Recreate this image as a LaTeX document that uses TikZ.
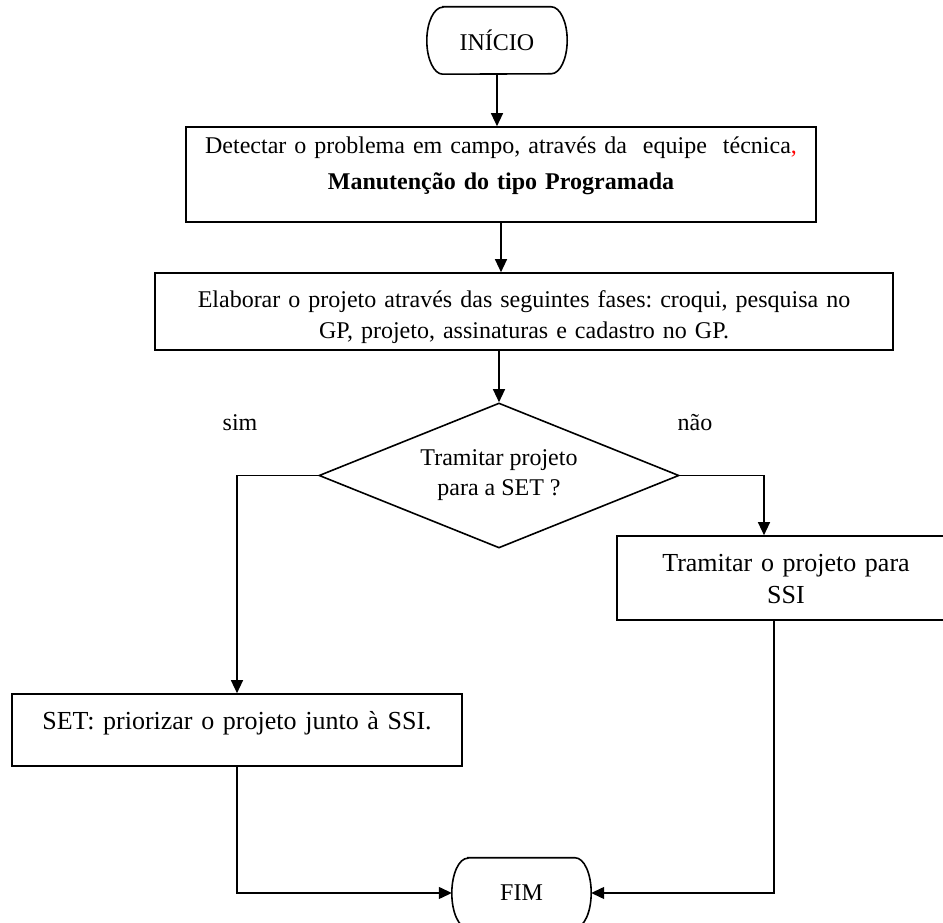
\documentclass[tikz,border=0pt]{standalone}
\usepackage{fontspec}
\setmainfont{Liberation Serif}
\usepackage{xcolor}
\usepackage{tikz}
\usetikzlibrary{shapes.geometric, arrows.meta}
\tikzstyle{terminal} = [rectangle, minimum width=140pt, minimum height=67pt, text centered, font=\fontsize{24}{28}\selectfont]
\tikzstyle{outline}  = [draw=black, line width=1.6pt]
\tikzstyle{process}  = [rectangle, inner ysep=0pt, align=center, draw=black, line width=1.6pt]
\tikzstyle{decision} = [diamond, aspect=2.5, minimum width=360pt, minimum height=145pt, inner sep=0pt, align=center, draw=black, line width=1.6pt, font=\fontsize{24}{30}\selectfont]
\tikzstyle{answer}   = [font=\fontsize{24}{28}\selectfont]
\tikzstyle{arrow}    = [line width=1.3pt, -{Triangle[length=13pt, width=12pt]}]

\begin{document}
\frenchspacing
\begin{tikzpicture}[x=1pt, y=1pt, node distance=134pt]
    \useasboundingbox (0,0) rectangle (943,923);

    \node (start)  [terminal] at (497,882.5) {INÍCIO};
    \node (detect) [process, below of=start, xshift=4pt, text width=620pt, inner xsep=5pt, text height=27pt, text depth=68pt, font=\fontsize{24}{36}\selectfont]
        {Detectar o problema em campo, através da\ \ equipe\ \ técnica\textcolor{red}{,}\\ \textbf{Manutenção do tipo Programada}};
    \node (elab)   [process, below of=detect, xshift=23pt, yshift=-3pt, text width=720pt, inner xsep=9pt, text height=35pt, text depth=42pt, font=\fontsize{24}{31}\selectfont]
        {Elaborar o projeto através das seguintes fases: croqui, pesquisa no\\ GP, projeto, assinaturas e cadastro no GP.};
    \node (dec)    [decision, below of=elab, xshift=-25pt, yshift=-30pt] {Tramitar projeto\\ para a SET ?};
    \node (ssi)    [process, right of=dec, xshift=153pt, yshift=-102.5pt, text width=320pt, inner xsep=9pt, text height=36pt, text depth=48pt, font=\fontsize{26}{32}\selectfont]
        {Tramitar o projeto para\\ SSI};
    \node (set)    [process, left of=dec, xshift=-128pt, yshift=-254.5pt, text width=430pt, inner xsep=10pt, text height=36pt, text depth=36pt, font=\fontsize{26}{32}\selectfont]
        {SET: priorizar o projeto junto à SSI.};
    \node (fim)    [terminal, below of=dec, xshift=22.5pt, yshift=-283.5pt, minimum width=139pt, minimum height=70pt] {FIM};

    \node (sim)    [answer, left of=dec, xshift=-125pt, yshift=52.5pt] {sim};
    \node (nao)    [answer, right of=dec, xshift=62pt, yshift=52.5pt] {não};

    % start / end outlines
    \foreach \n/\r in {start/33.5, fim/35}
        \draw [outline] ([xshift=16pt]\n.north west) -- ([xshift=-16pt]\n.north east)
            arc [start angle=90, end angle=-90, x radius=16pt, y radius=\r pt]
            -- ([xshift=16pt]\n.south west)
            arc [start angle=270, end angle=90, x radius=16pt, y radius=\r pt] -- cycle;

    % arrows
    \draw [arrow] (start.south)  -- (start.south |- detect.north);
    \draw [arrow] (detect.south) -- (detect.south |- elab.north);
    \draw [arrow] (dec.north |- elab.south) -- (dec.north);
    \draw [arrow] (dec.west) -| (set.north);
    \draw [arrow] (dec.east) -| ([xshift=-22pt]ssi.north);
    \draw [arrow] (set.south) |- (fim.west);
    \draw [arrow] ([xshift=-12pt]ssi.south) |- (fim.east);

\end{tikzpicture}
\end{document}
